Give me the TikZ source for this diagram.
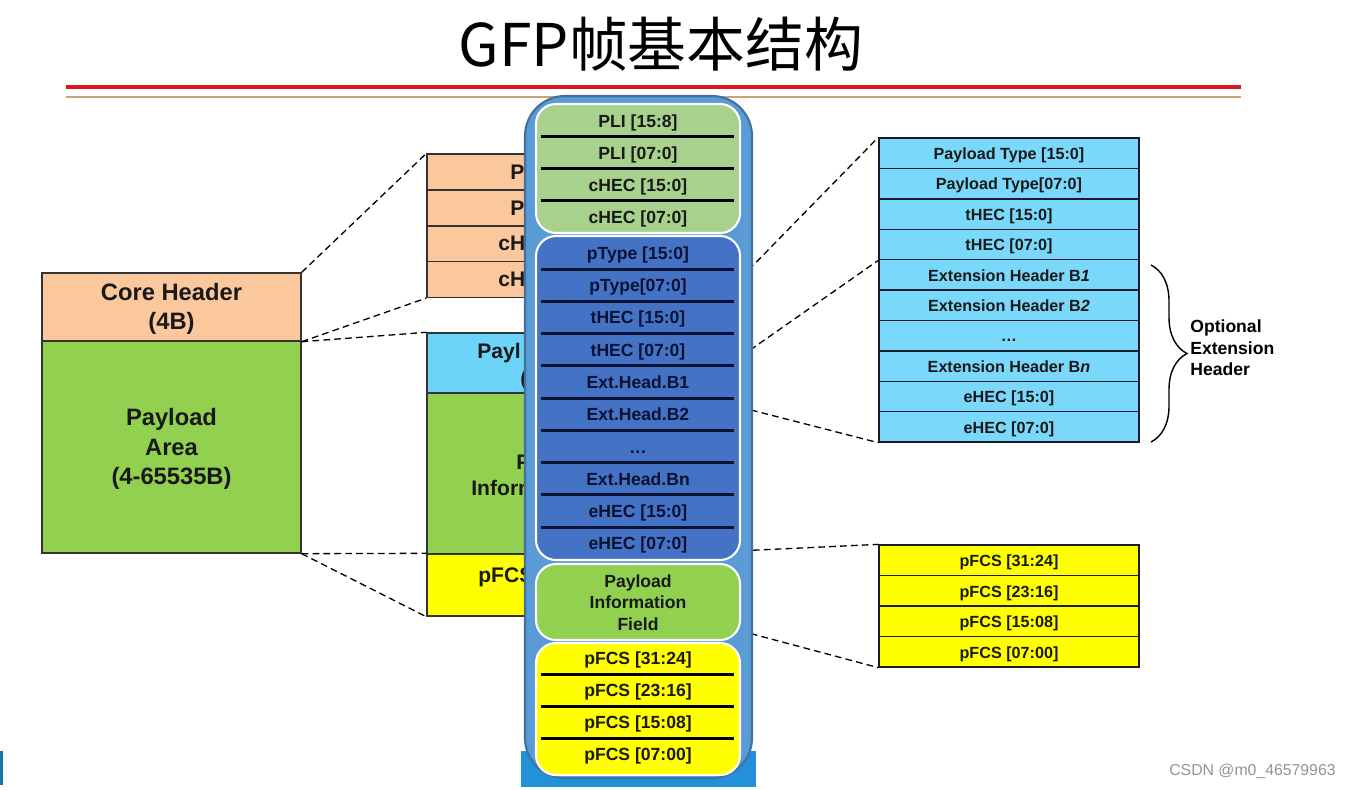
\documentclass[tikz,border=0pt]{standalone}
\usepackage{fontspec}
\setmainfont{Liberation Sans}
\newfontfamily\cjkfont{Noto Sans CJK SC}
\usetikzlibrary{decorations.pathreplacing}

\definecolor{peach}{HTML}{FAC89C}
\definecolor{pgreen}{HTML}{92D050}
\definecolor{lgreen}{HTML}{A9D18E}
\definecolor{dblue}{HTML}{4472C4}
\definecolor{cyanA}{HTML}{6DD3F8}
\definecolor{cyanB}{HTML}{7AD8FA}
\definecolor{pyellow}{HTML}{FFFF00}
\definecolor{ovfill}{HTML}{5B9BD5}
\definecolor{ovedge}{HTML}{41719C}
\definecolor{bandblue}{HTML}{2391D9}
\definecolor{navy}{HTML}{0B1233}
\definecolor{titlered}{HTML}{D7191F}
\definecolor{tanline}{HTML}{C9A37C}
\definecolor{cellline}{HTML}{1B1B2E}

\begin{document}
\begin{tikzpicture}[x=0.02cm,y=-0.02cm,
  capc/.style={text height=0.72em, text depth=0pt},
  bigtxt/.style={font=\bfseries\fontsize{13.5}{16.8}\selectfont, align=center, text=black!90},
  midtxt/.style={font=\bfseries\fontsize{12}{14.7}\selectfont, text=black!90, inner sep=0pt, anchor=west, capc},
  ovtxt/.style={font=\bfseries\fontsize{10}{12.2}\selectfont, align=center, inner sep=0pt},
  lbox/.style={draw=black!80, line width=0.8pt, inner sep=0pt, minimum width=5.18cm},
  bcell/.style={draw=black!80, line width=0.8pt, inner sep=0pt, minimum width=5.2cm},
  rcell/.style={draw=cellline, line width=0.8pt, inner sep=0pt, minimum width=5.2cm, minimum height=0.608cm,
    font=\bfseries\fontsize{9.2}{11}\selectfont, text=black!90, capc},
  zoomline/.style={dash pattern=on 3.8pt off 2.4pt, line width=0.75pt, black},
  inner/.style={draw=white, line width=1.2pt, rounded corners=0.4cm},
  sep/.style={line width=1.7pt}
]
\useasboundingbox (0,0) rectangle (1351,789);
\fill[white] (0,0) rectangle (1351,789);

% title and rules
\node (title) at (661,44) {\cjkfont\fontsize{33.5}{40}\selectfont GFP帧基本结构};
\draw[titlered, line width=2.4pt] (66,87) -- (1241,87);
\draw[tanline, line width=1.1pt] (66,97) -- (1241,97);

% left frame
\node[lbox, fill=peach, minimum height=1.36cm] (core) at (171.5,307) {};
\node[bigtxt] (coretxt) at (171.5,309) {Core Header\\(4B)};
\node[lbox, fill=pgreen, minimum height=4.24cm] (parea) at (171.5,447) {};
\node[bigtxt] (pareatxt) at (171.5,449) {Payload\\Area\\(4-65535B)};

% back column
\node[bcell, fill=peach, minimum height=0.715cm] (o1) at (557,172) {};
\node[bcell, fill=peach, minimum height=0.715cm] (o2) at (557,208) {};
\node[bcell, fill=peach, minimum height=0.715cm] (o3) at (557,244) {};
\node[bcell, fill=peach, minimum height=0.715cm] (o4) at (557,279.5) {};
\node[bcell, fill=cyanA, minimum height=1.2cm] (ph) at (557,363) {};
\node[bcell, fill=pgreen, minimum height=3.22cm] (pif0) at (557,473.5) {};
\node[bcell, fill=pyellow, minimum height=1.24cm] (pfcs0) at (557,585) {};
\node[midtxt] (t1) at (510,173) {P};
\node[midtxt] (t2) at (510,209) {P};
\node[midtxt] (t3) at (498,244) {cH};
\node[midtxt] (t4) at (498,280) {cH};
\node[midtxt] (t5) at (477,352) {Payl};
\node[midtxt] (t6) at (520,379) {(};
\node[midtxt] (t7) at (516,463) {P};
\node[midtxt] (t8) at (471,489) {Inform};
\node[midtxt] (t9) at (478,576) {pFCS};

% right boxes
\foreach \t [count=\i] in {{Payload Type [15:0]},{Payload Type[07:0]},{tHEC [15:0]},{tHEC [07:0]},{Extension Header B\textit{1}},{Extension Header B\textit{2}},{…},{Extension Header B\textit{n}},{eHEC [15:0]},{eHEC [07:0]}}
  \node[rcell, fill=cyanB] (r\i) at (1009,{138+30.4*(\i-0.5)}) {\t};
\foreach \t [count=\i] in {{pFCS [31:24]},{pFCS [23:16]},{pFCS [15:08]},{pFCS [07:00]}}
  \node[rcell, fill=pyellow] (f\i) at (1009,{545+30.5*(\i-0.5)}) {\t};

% zoom connectors
\draw[zoomline] (core.north east) -- (o1.north west);
\draw[zoomline] (core.south east) -- (o4.south west);
\draw[zoomline] (core.south east) -- (ph.north west);
\draw[zoomline] (parea.south east) -- (pfcs0.north west);
\draw[zoomline] (parea.south east) -- (pfcs0.south west);
\draw[zoomline] (ph.north east) -- (r1.north west);
\draw[zoomline] (ph.south east) -- (r4.south west);
\draw[zoomline] (ph.south east) -- (r10.south west);
\draw[zoomline] (pfcs0.north east) -- (f1.north west);
\draw[zoomline] (pfcs0.south east) -- (f4.south west);

% brace
\draw[decorate, decoration={brace, amplitude=0.72cm}, line width=0.8pt] (1151,265) -- (1151,442);
\node[font=\bfseries\fontsize{10}{12.3}\selectfont, align=left, anchor=west, inner sep=0pt] (opt) at (1190,348) {Optional\\Extension\\Header};

% overlay column
\fill[bandblue] (521,751) rectangle (756,787);
\draw[draw=ovedge, fill=ovfill, line width=1.2pt, rounded corners=0.8cm] (525,96) rectangle (752,778);
\draw[inner, fill=lgreen] (536,104) rectangle (740,233);
\draw[inner, fill=dblue] (536,236) rectangle (740,560);
\draw[inner, fill=pgreen] (536,564) rectangle (740,640);
\draw[inner, fill=pyellow] (536,643) rectangle (740,775);
\foreach \y in {136,168,200} \draw[sep, black] (541,\y) -- (734,\y);
\foreach \y in {269,301,333,365,398,430,462,494,527} \draw[sep, navy] (541,\y) -- (734,\y);
\foreach \y in {674,706,738} \draw[sep, black] (541,\y) -- (734,\y);

\foreach \t/\y [count=\i] in {{PLI [15:8]}/121,{PLI [07:0]}/153,{cHEC [15:0]}/185,{cHEC [07:0]}/217}
  \node[ovtxt, capc, text=black!90] (g\i) at (638,\y) {\t};
\foreach \t/\y [count=\i] in {{pType [15:0]}/253,{pType[07:0]}/285,{tHEC [15:0]}/317,{tHEC [07:0]}/350,{Ext.Head.B1}/382,{Ext.Head.B2}/414,{…}/447,{Ext.Head.Bn}/479,{eHEC [15:0]}/511,{eHEC [07:0]}/543}
  \node[ovtxt, capc, text=navy] (b\i) at (638,\y) {\t};
\node[ovtxt, text=black!90] (pif) at (638,602.5) {Payload\\Information\\Field};
\foreach \t/\y [count=\i] in {{pFCS [31:24]}/658,{pFCS [23:16]}/690,{pFCS [15:08]}/722,{pFCS [07:00]}/754}
  \node[ovtxt, capc, text=black!90] (y\i) at (638,\y) {\t};

% edge marks
\fill[bandblue!80!black] (0,751) rectangle (2.5,785);
\node[font=\fontsize{9}{11}\selectfont, text=black!42, anchor=east, inner sep=0pt] (wm) at (1336,771) {CSDN @m0\_46579963};
\end{tikzpicture}
\end{document}
